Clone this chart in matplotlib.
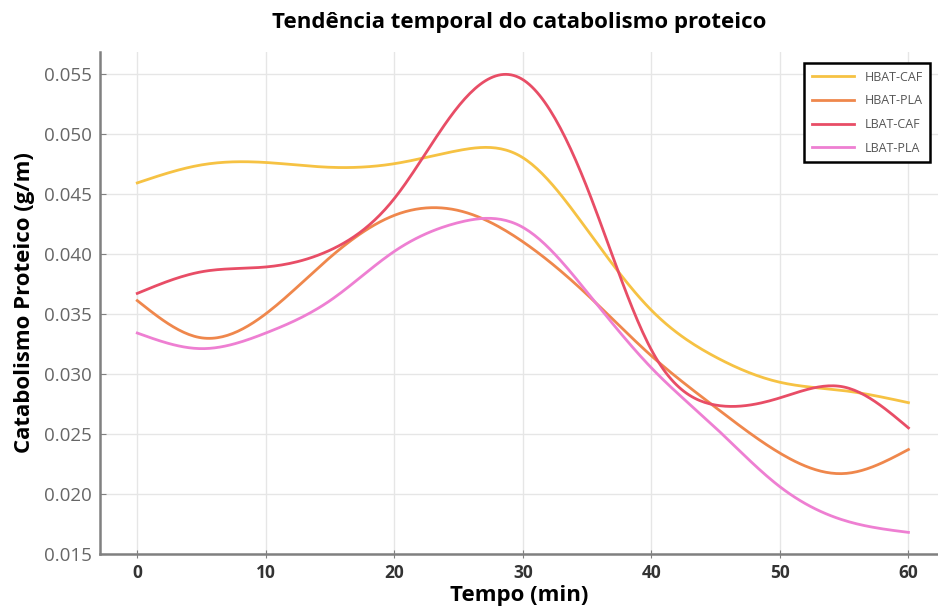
import numpy as np
import matplotlib
matplotlib.use("Agg")
import matplotlib.pyplot as plt

plt.rcParams['font.family'] = ['Open Sans', 'DejaVu Sans']

# values at every 5 minutes
tempo = [0, 5, 10, 15, 20, 25, 30, 35, 40, 45, 50, 55, 60]
hbat_caf = [0.0459, 0.0474, 0.0476, 0.0472, 0.0475, 0.0486, 0.0480, 0.0420, 0.0353, 0.0314, 0.0293, 0.0286, 0.0276]
hbat_pla = [0.0361, 0.0330, 0.0350, 0.0397, 0.0432, 0.0436, 0.0410, 0.0366, 0.0315, 0.0272, 0.0234, 0.0217, 0.0237]
lbat_caf = [0.0367, 0.0385, 0.0389, 0.0403, 0.0446, 0.0523, 0.0545, 0.0455, 0.0320, 0.0274, 0.0280, 0.0289, 0.0255]
lbat_pla = [0.0334, 0.0321, 0.0334, 0.0361, 0.0402, 0.0426, 0.0422, 0.0368, 0.0305, 0.0255, 0.0206, 0.0178, 0.0168]

series = [("HBAT-CAF", hbat_caf, "#f6c243"),
          ("HBAT-PLA", hbat_pla, "#ef874c"),
          ("LBAT-CAF", lbat_caf, "#e84d66"),
          ("LBAT-PLA", lbat_pla, "#ee7fd2")]


def spline(x, y, n=300):
    # natural cubic spline, only for drawing the smooth line
    x = np.asarray(x, float)
    y = np.asarray(y, float)
    k = len(x)
    h = np.diff(x)
    A = np.zeros((k, k))
    b = np.zeros(k)
    A[0, 0] = A[-1, -1] = 1
    for i in range(1, k - 1):
        A[i, i - 1] = h[i - 1]
        A[i, i] = 2 * (h[i - 1] + h[i])
        A[i, i + 1] = h[i]
        b[i] = 3 * ((y[i + 1] - y[i]) / h[i] - (y[i] - y[i - 1]) / h[i - 1])
    c = np.linalg.solve(A, b)
    xs = np.linspace(x[0], x[-1], n)
    idx = np.clip(np.searchsorted(x, xs) - 1, 0, k - 2)
    dx = xs - x[idx]
    bb = (y[idx + 1] - y[idx]) / h[idx] - h[idx] * (2 * c[idx] + c[idx + 1]) / 3
    dd = (c[idx + 1] - c[idx]) / (3 * h[idx])
    return xs, y[idx] + bb * dx + c[idx] * dx ** 2 + dd * dx ** 3


fig = plt.figure(figsize=(9.38, 6.13), dpi=100)
ax = fig.add_axes([100 / 938, 1 - 554 / 613, 838 / 938, 502 / 613])

for name, vals, col in series:
    xs, ys = spline(tempo, vals)
    ax.plot(xs, ys, color=col, lw=2, label=name)

ax.set_xlim(-2.9, 62.3)
ax.set_ylim(0.015, 0.0568)
ax.set_xticks(range(0, 61, 10))
ax.set_yticks(np.arange(0.015, 0.0551, 0.005))
ax.yaxis.set_major_formatter(matplotlib.ticker.FormatStrFormatter('%.3f'))

ax.grid(True, color="#e6e6e6", lw=1)
ax.set_axisbelow(True)
for s in ("top", "right"):
    ax.spines[s].set_visible(False)
for s in ("left", "bottom"):
    ax.spines[s].set_color("#808080")
    ax.spines[s].set_linewidth(1.8)

ax.tick_params(axis="y", direction="in", length=4, color="#808080", labelsize=13.5, labelcolor="#666666", pad=6)
ax.tick_params(axis="x", direction="inout", length=6, color="#808080", labelsize=12.5, labelcolor="#333333", pad=4)
for lab in ax.get_xticklabels():
    lab.set_fontweight("bold")

ax.set_title("Tendência temporal do catabolismo proteico", fontsize=16, fontweight="bold", pad=17)
ax.set_xlabel("Tempo (min)", fontsize=16, fontweight="bold", labelpad=2)
ax.set_ylabel("Catabolismo Proteico (g/m)", fontsize=16, fontweight="bold", labelpad=6)

leg = ax.legend(loc="upper right", bbox_to_anchor=(0.998, 0.99), fontsize=9, fancybox=False,
                framealpha=1, edgecolor="black", borderpad=0.6, handlelength=3.4, labelspacing=0.85)
leg.get_frame().set_linewidth(1.8)
for t in leg.get_texts():
    t.set_color("#555555")

fig.savefig("out.png", dpi=100)
